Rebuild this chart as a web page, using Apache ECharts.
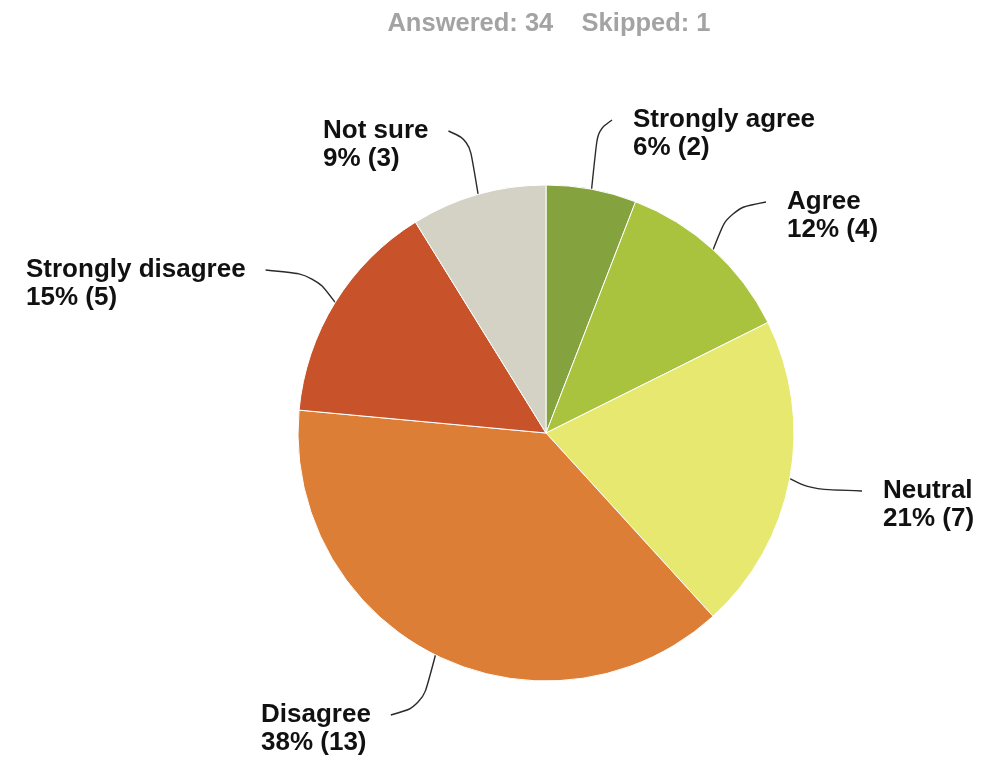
<!DOCTYPE html>
<html>
<head>
<meta charset="utf-8">
<script src="https://cdn.jsdelivr.net/npm/echarts@6/dist/echarts.min.js"></script>
<style>html,body{margin:0;padding:0;background:#fff;}#c{width:987px;height:759px;}</style>
</head>
<body>
<div id="c"></div>
<script>
var categories = ['Strongly agree', 'Agree', 'Neutral', 'Disagree', 'Strongly disagree', 'Not sure'];
var counts = [2, 4, 7, 13, 5, 3];
var percents = [6, 12, 21, 38, 15, 9];
var colors = ['#84a23e', '#a9c33f', '#e6e870', '#dd7e37', '#c8522a', '#d4d2c4'];
var answered = 34, skipped = 1;

// label block top-left corners and which side of the pie they are on
var labelPos = [
  {x: 633, y: 106, side: 'right'},
  {x: 787, y: 188, side: 'right'},
  {x: 883, y: 477, side: 'right'},
  {x: 261, y: 701, side: 'left'},
  {x: 26, y: 256, side: 'left'},
  {x: 323, y: 117, side: 'left'}
];
var CX = 546, CY = 433, R = 248;
var total = counts.reduce(function (a, b) { return a + b; }, 0);

var chart = echarts.init(document.getElementById('c'));
chart.setOption({
  animation: false,
  title: {
    text: 'Answered: ' + answered + '    Skipped: ' + skipped,
    left: 544, top: 6, textAlign: 'center',
    textStyle: {color: '#a3a3a3', fontFamily: 'Liberation Sans, Arial', fontWeight: 'bold', fontSize: 25.5}
  },
  series: [{
    type: 'pie',
    center: [CX, CY],
    radius: R,
    startAngle: 90,
    clockwise: true,
    data: categories.map(function (c, i) {
      return {name: c, value: counts[i], itemStyle: {color: colors[i]}};
    }),
    itemStyle: {borderColor: '#ffffff', borderWidth: 1},
    label: {
      show: true,
      formatter: function (p) { return p.name + '\n' + percents[p.dataIndex] + '% (' + p.value + ')'; },
      fontFamily: 'Liberation Sans, Arial',
      fontWeight: 'bold',
      fontSize: 26,
      lineHeight: 28,
      align: 'left',
      color: '#111'
    },
    labelLine: {show: true, smooth: 0.35, lineStyle: {color: '#2a2a2a', width: 1.4}},
    labelLayout: function (p) {
      var i = p.dataIndex;
      var lp = labelPos[i];
      var start;
      if (p.labelLinePoints && p.labelLinePoints.length) {
        start = p.labelLinePoints[0];
      } else {
        var before = 0;
        for (var k = 0; k < i; k++) before += counts[k];
        var a = (before + counts[i] / 2) / total * 2 * Math.PI;
        start = [CX + R * Math.sin(a), CY - R * Math.cos(a)];
      }
      var w = p.labelRect ? p.labelRect.width : 0;
      var ey = lp.y + 14;
      var ex = lp.side === 'right' ? lp.x - 21 : lp.x + w + 20;
      var mid = [start[0] + (ex - start[0]) * 0.3, start[1] + (ey - start[1]) * 0.85];
      return {
        x: lp.x, y: lp.y, align: 'left', verticalAlign: 'top',
        labelLinePoints: [start, mid, [ex, ey]]
      };
    }
  }]
});
</script>
</body>
</html>
